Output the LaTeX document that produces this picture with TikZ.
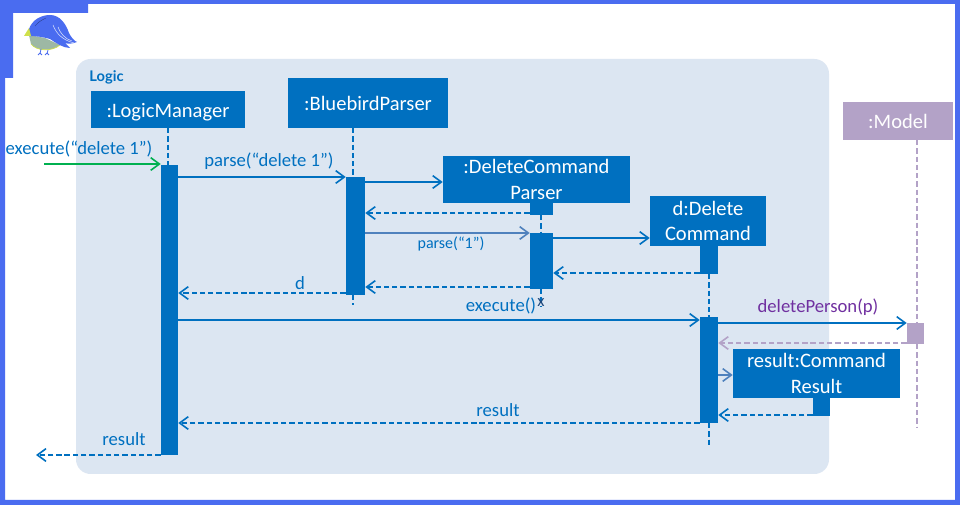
\documentclass[tikz,border=0pt]{standalone}
\usepackage{fontspec}
\setmainfont{Carlito}
\newfontfamily\logicfont{Lato}
\usetikzlibrary{arrows.meta,calc}
\definecolor{lblue}{HTML}{0070C0}
\definecolor{lbg}{HTML}{DCE6F2}
\definecolor{frameb}{HTML}{4A6CF0}
\definecolor{mpurple}{HTML}{B3A2C7}
\definecolor{tpurple}{HTML}{7030A0}
\definecolor{agreen}{HTML}{00B050}
\definecolor{steel}{HTML}{4F81BD}
\definecolor{beak}{HTML}{CFE04A}
\definecolor{belly}{HTML}{9DB8A4}
\definecolor{xmark}{HTML}{1F497D}
\tikzset{
 x=0.75pt,y=-0.75pt,
 actor/.style={fill=lblue,text=white,inner sep=0pt,align=center,font=\fontsize{15.4}{19}\selectfont},
 bar/.style={fill=lblue,inner sep=0pt},
 lifeline/.style={draw=lblue,line width=1.2pt,dash pattern=on 4pt off 2.2pt},
 msg/.style={draw=lblue,line width=1.2pt,-{Straight Barb[length=6.5pt,width=9.5pt,line width=1.2pt]}},
 ret/.style={msg,dash pattern=on 4pt off 2.2pt},
 lab/.style={text=lblue,inner sep=0pt,font=\fontsize{14}{16}\selectfont},
}
\begin{document}
\begin{tikzpicture}
\useasboundingbox (0,0) rectangle (960,505);
\fill[white] (0,0) rectangle (960,505);
% frame
\fill[frameb,even odd rule] (0,0) rectangle (960,505)
  (13,78) -- (13,13) -- (88,13) -- (88,4) -- (955,4) -- (955,500) -- (5,500) -- (5,78) -- cycle;
% bird
\fill[belly] (29,35) -- (45,38) -- (60,45) .. controls (52,52) and (36,51) .. (31,44) -- cycle;
\draw[beak,line width=0.5pt] (31,44) .. controls (36,51) and (52,52) .. (60,45);
\fill[frameb] (29,29) .. controls (32,20) and (41,15) .. (50,15) .. controls (60,15) and (66,24) .. (69,33) .. controls (71,37) and (74,41) .. (77,42) .. controls (72,44) and (68,44) .. (65,43) -- (70,48) .. controls (63,48) and (56,43) .. (50,39) .. controls (43,37) and (36,36) .. (29,36) -- cycle;
\fill[beak] (24,36) -- (29,28) -- (31,36) -- cycle;
\draw[white!80!frameb,line width=0.4pt] (53,25) .. controls (56,33) and (62,40) .. (74,43);
\draw[white!80!frameb,line width=0.4pt] (58,27) .. controls (60,33) and (65,39) .. (72,41);
\draw[frameb!60!black,line width=0.3pt] (35,26) .. controls (38,22) and (42,20) .. (46,18);
\draw[frameb,line width=0.6pt] (41,49) -- (40,54) (38,55) -- (40,53) -- (42,55) (48,50) -- (47,54) (45,55) -- (47,53) -- (49,55);
% logic box
\fill[lbg,rounded corners=11pt] (76,59) rectangle (829,474);
\node[text=lblue,inner sep=0pt,font=\logicfont\bfseries\fontsize{11}{13}\selectfont] (logic) at (106.5,77.5) {Logic};
% actors
\node[actor,minimum width=115.5pt,minimum height=27.75pt,text depth=0pt] (lmh) at (168,109.5) {\raisebox{-1.5pt}{:LogicManager}};
\node[actor,minimum width=120pt,minimum height=37.5pt] (bph) at (368,103) {\raisebox{-1.5pt}{:BluebirdParser}};
\node[actor,minimum width=140.25pt,minimum height=35.25pt] (dph) at (536.5,179.5) {:DeleteCommand\\Parser};
\node[actor,minimum width=87pt,minimum height=37.5pt] (dch) at (708,221) {d:Delete\\Command};
\node[actor,fill=mpurple,minimum width=82.5pt,minimum height=28.5pt] (mh) at (898,121) {\raisebox{-1.5pt}{:Model}};
\node[actor,minimum width=125.25pt,minimum height=36.75pt] (rh) at (816.5,373.5) {result:Command\\Result};
% activation bars
\node[bar,minimum width=12.75pt,minimum height=217.5pt] (lma) at (169.5,310) {};
\node[bar,minimum width=14.25pt,minimum height=88.5pt] (bpa) at (355.5,236) {};
\node[bar,minimum width=17.25pt,minimum height=9pt] (dpt) at (541.5,209) {};
\node[bar,minimum width=17.25pt,minimum height=42pt] (dpa) at (541.5,261) {};
\node[bar,minimum width=13.5pt,minimum height=21pt] (dct) at (709,260) {};
\node[bar,minimum width=13.5pt,minimum height=79.5pt] (dca) at (709,370) {};
\node[bar,fill=mpurple,minimum width=12.75pt,minimum height=15.75pt] (ma) at (915.5,333.5) {};
\node[bar,minimum width=12.75pt,minimum height=13.5pt] (rt) at (821.5,407) {};
% free ends
\coordinate (bpend) at (353,305);
\coordinate (dpend) at (541,306);
\coordinate (dcend) at (709,445);
\coordinate (mend) at (917,428);
\coordinate (inS) at (44,164);
\coordinate (outE) at (36,455);
% lifelines
\draw[lifeline] (168,128) -- (168,165);
\draw[lifeline] (353,128) -- (353,177);
\draw[lifeline] (353,295) -- (bpend);
\draw[lifeline] (541,215) -- (541,233);
\draw[lifeline] (541,289) -- (dpend);
\draw[lifeline] (709,274) -- (709,317);
\draw[lifeline] (709,423) -- (dcend);
\draw[lifeline,draw=mpurple] (917,140) -- (917,323);
\draw[lifeline,draw=mpurple] (917,344) -- (mend);
% messages
\draw[msg,draw=agreen] (inS) -- (lma.west |- inS);
\draw[msg] (lma.east |- 0,177) -- (bpa.west |- 0,177);
\draw[msg] (bpa.east |- 0,182) -- (dph.west |- 0,182);
\draw[ret] (dpt.west |- 0,213) -- (bpa.east |- 0,213);
\draw[msg,draw=steel] (bpa.east |- 0,233) -- (dpa.west |- 0,233);
\draw[msg] (dpa.east |- 0,238) -- (dch.west |- 0,238);
\draw[ret] (dct.west |- 0,273) -- (dpa.east |- 0,273);
\draw[ret] (dpa.west |- 0,287) -- (bpa.east |- 0,287);
\draw[ret] (bpa.west |- 0,293) -- (lma.east |- 0,293);
\draw[msg] (lma.east |- 0,320) -- (dca.west |- 0,320);
\draw[msg] (dca.east |- 0,323) -- (ma.west |- 0,323);
\draw[ret,draw=mpurple] (ma.west |- 0,343) -- (dca.east |- 0,343);
\draw[msg,draw=steel] (dca.east |- 0,375) -- (rh.west |- 0,375);
\draw[ret] (rt.west |- 0,415) -- (dca.east |- 0,415);
\draw[ret] (dca.west |- 0,423) -- (lma.east |- 0,423);
\draw[ret] (lma.west |- outE) -- (outE);
% labels
\node[lab] (t1) at (79,149) {execute(“delete 1”)};
\node[lab] (t2) at (269,161) {parse(“delete 1”)};
\node[lab,font=\fontsize{12}{14}\selectfont] (t3) at (451,243.5) {parse(“1”)};
\node[lab] (t4) at (300,283.5) {d};
\node[lab] (t5) at (501,306) {execute()};
\node[text=xmark,inner sep=0pt,font=\fontsize{12.5}{13}\selectfont] (t6) at (541,302.5) {x};
\node[lab,text=tpurple] (t7) at (818,307.5) {deletePerson(p)};
\node[lab] (t8) at (498,410.5) {result};
\node[lab] (t9) at (124,439.5) {result};
\end{tikzpicture}
\end{document}
